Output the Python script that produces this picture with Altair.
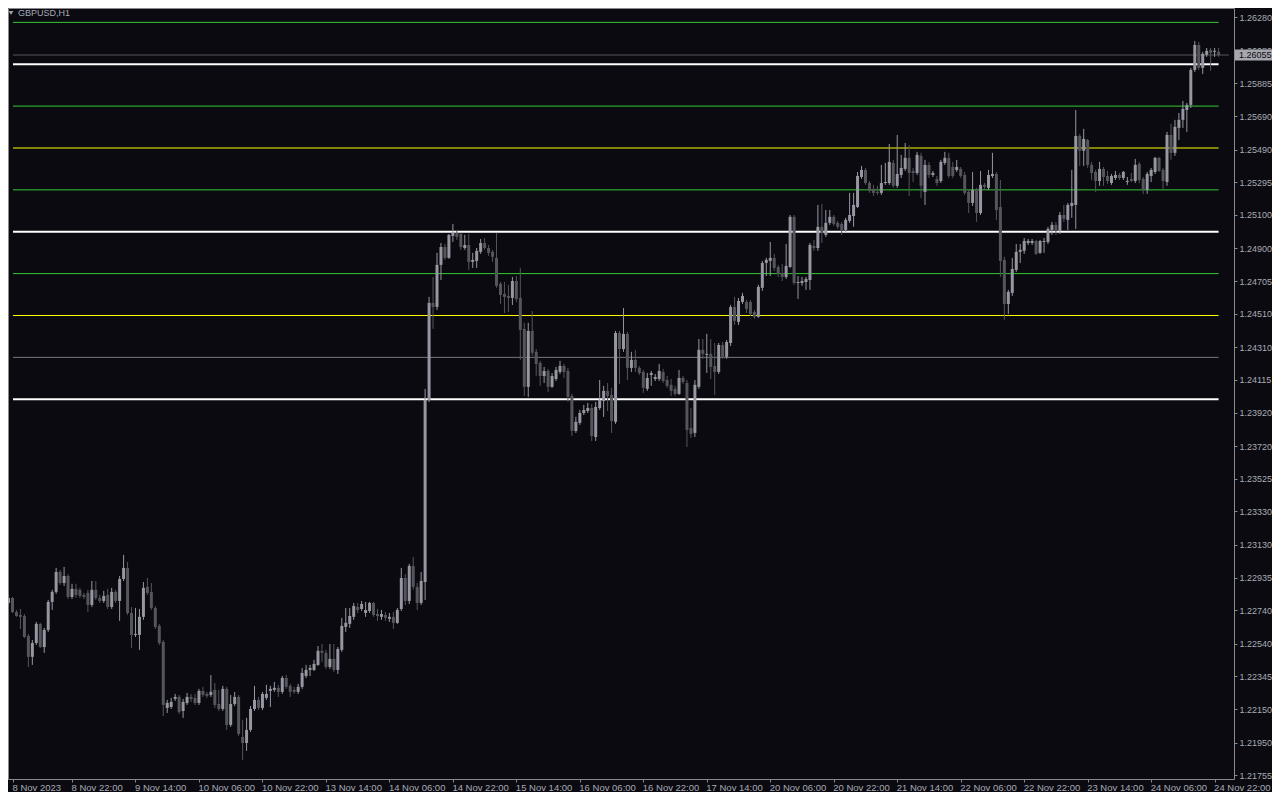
import altair as alt
import pandas as pd

# ---------------- data (GBPUSD H1, 8 Nov 2023 06:00 .. 24 Nov 2023 23:00) ----------------
opens = [
1.22784,1.22814,1.22730,1.22712,1.22706,1.22587,1.22462,1.22545,1.22659,1.22521,
1.22623,1.22790,1.22850,1.22969,1.22903,1.22945,1.22820,1.22868,1.22862,1.22832,
1.22844,1.22772,1.22862,1.22814,1.22796,1.22832,1.22760,1.22850,1.22796,1.22927,
1.22993,1.22724,1.22593,1.22593,1.22701,1.22880,1.22850,1.22754,1.22647,1.22551,
1.22157,1.22163,1.22211,1.22223,1.22139,1.22187,1.22223,1.22217,1.22187,1.22259,
1.22241,1.22235,1.22265,1.22181,1.22151,1.22271,1.22056,1.22181,1.22223,1.21984,
1.21948,1.22026,1.22151,1.22205,1.22157,1.22217,1.22259,1.22265,1.22277,1.22253,
1.22336,1.22289,1.22265,1.22253,1.22283,1.22348,1.22384,1.22384,1.22414,1.22498,
1.22486,1.22402,1.22450,1.22384,1.22504,1.22641,1.22659,1.22701,1.22760,1.22748,
1.22724,1.22736,1.22784,1.22718,1.22701,1.22712,1.22689,1.22701,1.22665,1.22748,
1.22933,1.22796,1.23005,1.22880,1.22784,1.22909,1.23996,1.24575,1.24551,1.24802,
1.24909,1.24844,1.24975,1.24993,1.24987,1.24903,1.24921,1.24820,1.24826,1.24880,
1.24933,1.24903,1.24880,1.24844,1.24689,1.24629,1.24617,1.24605,1.24706,1.24605,
1.24420,1.24074,1.24408,1.24283,1.24217,1.24139,1.24169,1.24074,1.24121,1.24163,
1.24199,1.24169,1.24020,1.23811,1.23859,1.23918,1.23930,1.23948,1.23775,1.23948,
1.23990,1.24050,1.24026,1.23865,1.24396,1.24300,1.24390,1.24187,1.24235,1.24187,
1.24163,1.24062,1.24145,1.24121,1.24121,1.24163,1.24115,1.24086,1.24062,1.24032,
1.24127,1.24097,1.23829,1.23799,1.24074,1.24295,1.24265,1.24271,1.24199,1.24163,
1.24324,1.24253,1.24336,1.24551,1.24462,1.24581,1.24581,1.24581,1.24521,1.24492,
1.24665,1.24814,1.24826,1.24844,1.24790,1.24754,1.24730,1.24790,1.25089,1.24694,
1.24694,1.24700,1.24712,1.24915,1.24903,1.25029,1.24981,1.25053,1.25089,1.25053,
1.25047,1.25011,1.25065,1.25094,1.25148,1.25327,1.25369,1.25291,1.25256,1.25238,
1.25232,1.25291,1.25291,1.25411,1.25274,1.25339,1.25375,1.25441,1.25363,1.25351,
1.25453,1.25238,1.25399,1.25339,1.25315,1.25303,1.25411,1.25441,1.25387,1.25369,
1.25375,1.25339,1.25238,1.25172,1.25250,1.25112,1.25280,1.25262,1.25333,1.25345,
1.25148,1.24832,1.24569,1.24635,1.24772,1.24880,1.24886,1.24933,1.24933,1.24945,
1.24874,1.24939,1.24939,1.25011,1.25041,1.25005,1.25100,1.25071,1.25154,1.25160,
1.25572,1.25483,1.25548,1.25399,1.25357,1.25303,1.25375,1.25333,1.25291,1.25321,
1.25339,1.25321,1.25297,1.25315,1.25303,1.25405,1.25315,1.25250,1.25333,1.25357,
1.25441,1.25369,1.25297,1.25578,1.25471,1.25620,1.25668,1.25727,1.25757,1.25966,
1.26115,1.25978,1.26056,1.26086,1.26074,1.26074]

highs = [
1.22838,1.22820,1.22742,1.22748,1.22718,1.22599,1.22563,1.22671,1.22665,1.22635,
1.22802,1.22862,1.22993,1.22981,1.22999,1.22957,1.22898,1.22898,1.22874,1.22844,
1.22862,1.22915,1.22915,1.22832,1.22856,1.22868,1.22874,1.22862,1.22945,1.23071,
1.23029,1.22760,1.22754,1.22748,1.22909,1.22933,1.22903,1.22766,1.22659,1.22563,
1.22205,1.22217,1.22241,1.22235,1.22211,1.22247,1.22241,1.22241,1.22271,1.22283,
1.22253,1.22354,1.22306,1.22265,1.22289,1.22283,1.22235,1.22253,1.22235,1.22086,
1.22098,1.22169,1.22289,1.22223,1.22253,1.22295,1.22289,1.22312,1.22295,1.22348,
1.22354,1.22301,1.22283,1.22301,1.22396,1.22414,1.22414,1.22444,1.22527,1.22539,
1.22504,1.22539,1.22539,1.22521,1.22695,1.22754,1.22754,1.22784,1.22784,1.22796,
1.22790,1.22790,1.22790,1.22748,1.22742,1.22730,1.22724,1.22730,1.22754,1.22993,
1.22957,1.23017,1.23059,1.22903,1.22969,1.24062,1.24611,1.24730,1.24874,1.24933,
1.24927,1.24987,1.25047,1.25005,1.24993,1.24981,1.24987,1.24874,1.24903,1.24957,
1.24963,1.24921,1.24892,1.24993,1.24700,1.24700,1.24683,1.24730,1.24736,1.24784,
1.24456,1.24456,1.24527,1.24300,1.24229,1.24193,1.24181,1.24157,1.24193,1.24229,
1.24211,1.24187,1.24032,1.23895,1.23936,1.23966,1.23978,1.23972,1.23984,1.24115,
1.24080,1.24097,1.24068,1.24408,1.24408,1.24545,1.24402,1.24283,1.24295,1.24199,
1.24175,1.24157,1.24169,1.24151,1.24211,1.24181,1.24139,1.24121,1.24080,1.24175,
1.24139,1.24115,1.23948,1.24115,1.24360,1.24360,1.24390,1.24360,1.24336,1.24336,
1.24342,1.24354,1.24563,1.24611,1.24605,1.24635,1.24593,1.24593,1.24533,1.24683,
1.24826,1.24844,1.24939,1.24868,1.24802,1.24808,1.24927,1.25100,1.25100,1.24736,
1.24730,1.24730,1.24933,1.24951,1.25160,1.25166,1.25130,1.25130,1.25100,1.25065,
1.25059,1.25083,1.25232,1.25232,1.25357,1.25393,1.25381,1.25303,1.25280,1.25274,
1.25399,1.25411,1.25524,1.25429,1.25578,1.25459,1.25530,1.25518,1.25381,1.25477,
1.25471,1.25429,1.25417,1.25363,1.25333,1.25429,1.25477,1.25471,1.25417,1.25429,
1.25387,1.25357,1.25250,1.25357,1.25262,1.25363,1.25291,1.25369,1.25471,1.25357,
1.25309,1.24850,1.24653,1.24844,1.24927,1.24927,1.24963,1.24957,1.24957,1.24951,
1.24951,1.24963,1.25029,1.25059,1.25059,1.25118,1.25160,1.25172,1.25369,1.25727,
1.25584,1.25614,1.25554,1.25417,1.25369,1.25417,1.25387,1.25363,1.25345,1.25363,
1.25351,1.25363,1.25327,1.25351,1.25435,1.25417,1.25327,1.25357,1.25381,1.25447,
1.25447,1.25381,1.25596,1.25644,1.25668,1.25709,1.25781,1.25769,1.25978,1.26139,
1.26133,1.26074,1.26097,1.26097,1.26097,1.26097]

lows = [
1.22766,1.22724,1.22701,1.22629,1.22575,1.22402,1.22414,1.22533,1.22515,1.22486,
1.22611,1.22742,1.22838,1.22892,1.22886,1.22808,1.22808,1.22814,1.22814,1.22808,
1.22730,1.22760,1.22802,1.22784,1.22784,1.22748,1.22748,1.22784,1.22677,1.22915,
1.22712,1.22515,1.22581,1.22504,1.22683,1.22832,1.22742,1.22629,1.22533,1.22109,
1.22127,1.22151,1.22199,1.22121,1.22098,1.22175,1.22193,1.22175,1.22175,1.22223,
1.22217,1.22223,1.22157,1.22139,1.22139,1.22026,1.22044,1.22169,1.21990,1.21847,
1.21901,1.22014,1.22139,1.22145,1.22145,1.22205,1.22163,1.22253,1.22223,1.22241,
1.22271,1.22223,1.22241,1.22241,1.22271,1.22336,1.22348,1.22378,1.22408,1.22432,
1.22390,1.22390,1.22372,1.22360,1.22492,1.22611,1.22635,1.22683,1.22724,1.22736,
1.22701,1.22724,1.22701,1.22677,1.22683,1.22677,1.22671,1.22629,1.22659,1.22736,
1.22772,1.22778,1.22862,1.22742,1.22772,1.22802,1.23984,1.24420,1.24533,1.24712,
1.24832,1.24838,1.24939,1.24951,1.24892,1.24892,1.24772,1.24784,1.24784,1.24868,
1.24892,1.24856,1.24820,1.24665,1.24569,1.24515,1.24521,1.24563,1.24581,1.24235,
1.24020,1.24014,1.24259,1.24139,1.24080,1.24097,1.24044,1.24068,1.24109,1.24151,
1.24127,1.23984,1.23781,1.23799,1.23847,1.23906,1.23918,1.23751,1.23751,1.23936,
1.23895,1.23930,1.23799,1.23853,1.24092,1.24283,1.24115,1.24163,1.24163,1.24145,
1.24038,1.24050,1.24080,1.24109,1.24109,1.24097,1.24068,1.24020,1.24020,1.24026,
1.24092,1.23715,1.23769,1.23775,1.24062,1.24241,1.24157,1.24121,1.24026,1.24151,
1.24241,1.24241,1.24318,1.24444,1.24444,1.24569,1.24515,1.24497,1.24480,1.24486,
1.24647,1.24736,1.24736,1.24766,1.24730,1.24706,1.24718,1.24784,1.24683,1.24599,
1.24677,1.24653,1.24653,1.24886,1.24886,1.24933,1.24969,1.25041,1.25035,1.25017,
1.24981,1.24999,1.25053,1.25029,1.25142,1.25315,1.25280,1.25232,1.25214,1.25220,
1.25220,1.25280,1.25280,1.25262,1.25262,1.25321,1.25363,1.25214,1.25297,1.25339,
1.25202,1.25160,1.25321,1.25327,1.25274,1.25291,1.25399,1.25321,1.25321,1.25357,
1.25321,1.25220,1.25112,1.25154,1.25059,1.25100,1.25250,1.25250,1.25321,1.25071,
1.24730,1.24474,1.24509,1.24617,1.24760,1.24814,1.24868,1.24921,1.24921,1.24862,
1.24868,1.24874,1.24927,1.24981,1.24981,1.24987,1.25059,1.25011,1.25083,1.25017,
1.25393,1.25393,1.25381,1.25309,1.25238,1.25274,1.25274,1.25286,1.25280,1.25309,
1.25309,1.25309,1.25280,1.25297,1.25291,1.25291,1.25226,1.25226,1.25297,1.25345,
1.25357,1.25250,1.25274,1.25429,1.25453,1.25548,1.25620,1.25596,1.25739,1.25954,
1.25966,1.25942,1.26044,1.25960,1.26044,1.26044]

closes = [
1.22814,1.22730,1.22706,1.22701,1.22581,1.22462,1.22545,1.22659,1.22521,1.22623,
1.22790,1.22850,1.22969,1.22903,1.22945,1.22820,1.22868,1.22832,1.22826,1.22820,
1.22772,1.22862,1.22814,1.22796,1.22826,1.22760,1.22850,1.22796,1.22927,1.22993,
1.22724,1.22593,1.22599,1.22701,1.22874,1.22844,1.22754,1.22641,1.22545,1.22175,
1.22187,1.22193,1.22223,1.22133,1.22193,1.22223,1.22211,1.22187,1.22259,1.22235,
1.22229,1.22253,1.22175,1.22151,1.22271,1.22056,1.22181,1.22223,1.22002,1.21948,
1.22026,1.22151,1.22205,1.22157,1.22241,1.22241,1.22271,1.22277,1.22253,1.22336,
1.22283,1.22253,1.22253,1.22283,1.22366,1.22384,1.22396,1.22420,1.22498,1.22486,
1.22402,1.22450,1.22384,1.22509,1.22647,1.22665,1.22706,1.22766,1.22742,1.22778,
1.22742,1.22784,1.22712,1.22706,1.22718,1.22695,1.22701,1.22665,1.22742,1.22933,
1.22796,1.23005,1.22880,1.22784,1.22915,1.23996,1.24575,1.24551,1.24802,1.24909,
1.24844,1.24981,1.24993,1.24969,1.24909,1.24921,1.24820,1.24832,1.24886,1.24933,
1.24903,1.24874,1.24850,1.24677,1.24623,1.24611,1.24605,1.24706,1.24599,1.24414,
1.24074,1.24408,1.24277,1.24211,1.24139,1.24169,1.24074,1.24139,1.24175,1.24199,
1.24163,1.24014,1.23811,1.23865,1.23918,1.23936,1.23948,1.23781,1.23954,1.23996,
1.24050,1.24020,1.23871,1.24396,1.24300,1.24390,1.24187,1.24235,1.24187,1.24157,
1.24068,1.24127,1.24157,1.24133,1.24169,1.24109,1.24080,1.24050,1.24032,1.24127,
1.24103,1.23817,1.23793,1.24086,1.24295,1.24271,1.24271,1.24193,1.24163,1.24324,
1.24253,1.24342,1.24551,1.24468,1.24587,1.24617,1.24539,1.24509,1.24492,1.24671,
1.24814,1.24832,1.24844,1.24784,1.24748,1.24730,1.24796,1.25089,1.24694,1.24700,
1.24706,1.24718,1.24921,1.24903,1.25029,1.24993,1.25053,1.25089,1.25047,1.25029,
1.25011,1.25071,1.25100,1.25160,1.25333,1.25369,1.25291,1.25244,1.25232,1.25232,
1.25291,1.25297,1.25417,1.25274,1.25345,1.25381,1.25441,1.25351,1.25351,1.25459,
1.25274,1.25399,1.25339,1.25351,1.25291,1.25417,1.25441,1.25333,1.25333,1.25387,
1.25333,1.25232,1.25172,1.25250,1.25112,1.25280,1.25268,1.25339,1.25345,1.25130,
1.24826,1.24569,1.24641,1.24778,1.24880,1.24892,1.24945,1.24945,1.24945,1.24868,
1.24945,1.24945,1.25017,1.25041,1.25005,1.25100,1.25077,1.25160,1.25172,1.25572,
1.25483,1.25554,1.25399,1.25351,1.25303,1.25375,1.25327,1.25303,1.25333,1.25339,
1.25321,1.25357,1.25303,1.25303,1.25399,1.25309,1.25250,1.25345,1.25369,1.25441,
1.25363,1.25303,1.25578,1.25471,1.25626,1.25668,1.25733,1.25757,1.25966,1.26115,
1.25978,1.26062,1.26080,1.26068,1.26080,1.26055]

time_labels = ["8 Nov 2023", "8 Nov 22:00", "9 Nov 14:00", "10 Nov 06:00", "10 Nov 22:00",
               "13 Nov 14:00", "14 Nov 06:00", "14 Nov 22:00", "15 Nov 14:00", "16 Nov 06:00",
               "16 Nov 22:00", "17 Nov 14:00", "20 Nov 06:00", "20 Nov 22:00", "21 Nov 14:00",
               "22 Nov 06:00", "22 Nov 22:00", "23 Nov 14:00", "24 Nov 06:00", "24 Nov 22:00"]
time_label_bars = [0, 16, 32, 48, 64, 80, 96, 112, 128, 144, 160, 176, 192, 208, 224,
                   240, 256, 272, 288, 304]

price_ticks = [1.26280, 1.26080, 1.25885, 1.25690, 1.25490, 1.25295, 1.25100, 1.24900,
               1.24705, 1.24510, 1.24310, 1.24115, 1.23920, 1.23720, 1.23525, 1.23330,
               1.23130, 1.22935, 1.22740, 1.22540, 1.22345, 1.22150, 1.21950, 1.21755]

level_prices = [1.2625, 1.2600, 1.2575, 1.2550, 1.2525, 1.2500, 1.2475, 1.2450, 1.2425, 1.2400]
level_kinds = ["green", "white", "green", "yellow", "green", "white", "green", "yellow", "grey", "white"]

symbol_title = "GBPUSD,H1"
current_price = 1.26055

# ---------------- frames ----------------
n = len(closes)
last_bar = n - 1
X_DOMAIN = [1.125, 307.625]        # visible bar range (4 px per bar)
Y_DOMAIN = [1.217329, 1.263357]    # visible price range

df = pd.DataFrame({"bar": list(range(n)), "open": opens, "high": highs,
                   "low": lows, "close": closes})
df["dir"] = ["up" if c >= o else "down" for o, c in zip(opens, closes)]

levels = pd.DataFrame({"price": level_prices, "kind": level_kinds})
levels["w"] = [2 if k == "white" else 1 for k in level_kinds]
levels["x0"] = X_DOMAIN[0]
levels["x1"] = last_bar

cur = pd.DataFrame({"price": [current_price], "label": [f"{current_price:.5f}"],
                    "x0": [X_DOMAIN[0]], "x1": [X_DOMAIN[1]]})
title_df = pd.DataFrame({"t": [symbol_title]})

xs = alt.Scale(domain=X_DOMAIN, nice=False, zero=False)
ys = alt.Scale(domain=Y_DOMAIN, nice=False, zero=False)

FONT = "Liberation Sans"
TXT = "#a9abb6"
FRAME = "#8a8a8e"

# first tick sits on the left edge of the visible range and carries the start date
x_tick_values = [X_DOMAIN[0]] + time_label_bars[1:]
label_js = "[" + ",".join("'" + s + "'" for s in time_labels) + "]"
x_axis = alt.Axis(values=x_tick_values,
                  labelExpr=label_js + "[round(datum.value/16)]",
                  orient="bottom", title=None, labelAlign="left", labelBaseline="top",
                  labelPadding=0, tickSize=3, labelOffset=-1, labelFlush=False,
                  labelOverlap=False, labelBound=False, domain=False, grid=False,
                  labelFontSize=9.5)
y_axis = alt.Axis(values=price_ticks, format=".5f", orient="right", title=None,
                  labelAlign="left", labelBaseline="middle", labelPadding=2, tickSize=3,
                  labelFlush=False, labelOverlap=False, labelBound=False, domain=False,
                  grid=False, labelFontSize=9)


def X(field):
    return alt.X(field, scale=xs, axis=x_axis, title=None)


def Y(field):
    return alt.Y(field, scale=ys, axis=y_axis, title=None)


candle_colors = alt.Scale(domain=["up", "down"], range=["#9797a3", "#55555c"])
level_colors = alt.Scale(domain=["green", "white", "yellow", "grey"],
                         range=["#32cd32", "#ffffff", "#ffff00", "#77777b"])

level_layer = alt.Chart(levels).mark_rule(clip=True).encode(
    x=X("x0:Q"), x2="x1:Q", y=Y("price:Q"),
    color=alt.Color("kind:N", scale=level_colors, legend=None),
    strokeWidth=alt.StrokeWidth("w:Q", scale=None),
)

cur_line = alt.Chart(cur).mark_rule(clip=True, color="#56565c", strokeWidth=1).encode(
    x=X("x0:Q"), x2="x1:Q", y=Y("price:Q"),
)

wicks = alt.Chart(df).mark_rule(strokeWidth=1, clip=True).encode(
    x=X("bar:Q"), y=Y("low:Q"), y2="high:Q",
    color=alt.Color("dir:N", scale=candle_colors, legend=None),
)

bodies = alt.Chart(df).mark_bar(width=3, clip=True).encode(
    x=X("bar:Q"), y=Y("open:Q"), y2="close:Q",
    color=alt.Color("dir:N", scale=candle_colors, legend=None),
)

price_box = alt.Chart(cur).mark_rule(color="#a6a6ae", strokeWidth=11, clip=False).encode(
    x=alt.value(1227), x2=alt.value(1264), y=Y("price:Q"),
)
price_text = alt.Chart(cur).mark_text(align="left", baseline="middle", font=FONT,
                                      fontSize=9, color="#0a0a10", clip=False).encode(
    x=alt.value(1231), y=Y("price:Q"), text="label:N",
)

title_text = alt.Chart(title_df).mark_text(align="left", baseline="middle", font=FONT,
                                           fontSize=9, color=TXT).encode(
    x=alt.value(10), y=alt.value(5), text="t:N")
title_tri = alt.Chart(title_df).mark_point(shape="triangle-down", filled=True, size=22,
                                           color="#a0a0a8", opacity=1).encode(
    x=alt.value(3), y=alt.value(5))

chart = alt.layer(
    level_layer, cur_line, wicks, bodies, price_box, price_text, title_text, title_tri
).resolve_scale(color="independent").properties(
    width=1226, height=771,
    autosize=alt.AutoSizeParams(type="none"),
    padding={"left": 0, "top": 0, "right": 38, "bottom": 13},
    background="#0a0a10",
).configure_view(
    stroke=FRAME, strokeWidth=1, fill="#0a0a10"
).configure_axis(
    labelColor=TXT, tickColor=FRAME, labelFont=FONT
)

chart.save("out.html", embed_options={"renderer": "svg", "actions": False})
